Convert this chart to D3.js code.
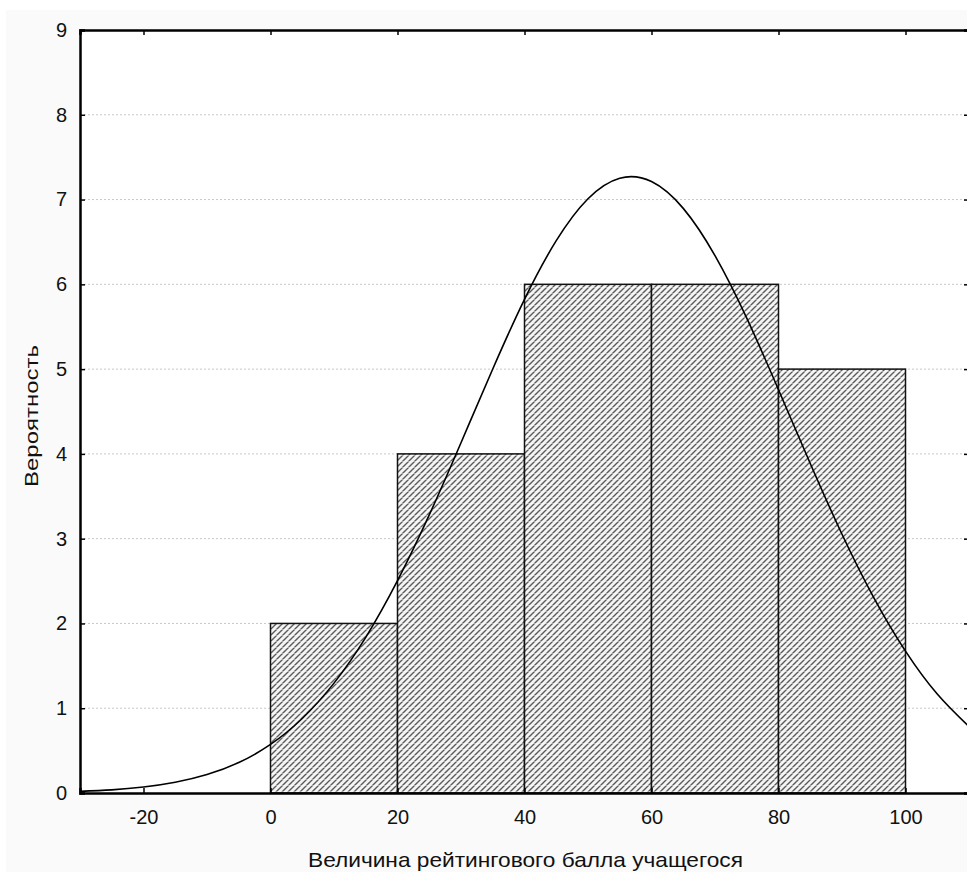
<!DOCTYPE html>
<html><head><meta charset="utf-8">
<script src="https://cdn.jsdelivr.net/npm/d3@7"></script>
<style>
html,body{margin:0;padding:0;background:#fff;}
svg{display:block;font-family:"Liberation Sans",Arial,sans-serif;}
</style></head>
<body>
<svg id="chart" width="967" height="872"></svg>
<script>
// Histogram bins
const binStarts = [0, 20, 40, 60, 80];
const binWidth = 20;
const counts = [2, 4, 6, 6, 5];
// Fitted normal curve
const curveX = [-30,-25,-20,-15,-10,-5,0,5,10,15,20,25,30,35,40,45,50,55,60,65,70,75,80,85,90,95,100,105,110];
const curveY = [0.019,0.037,0.070,0.126,0.217,0.359,0.573,0.879,1.296,1.836,2.504,3.280,4.132,5.002,5.823,6.515,7.010,7.252,7.212,6.896,6.338,5.601,4.757,3.887,3.052,2.305,1.673,1.167,0.783];
const xTicks = [-20, 0, 20, 40, 60, 80, 100];
const yTicks = [0,1,2,3,4,5,6,7,8,9];
const xTitle = "Величина рейтингового балла учащегося";
const yTitle = "Вероятность";

const svg = d3.select("#chart");
const L = 80, T = 30, B = 793;
const x = d3.scaleLinear().domain([-30, 110]).range([L, L + 140 * 6.35]);
const y = d3.scaleLinear().domain([0, 9]).range([B, T]);
const R = x(110);

// background
svg.append("rect").attr("x", 6).attr("y", 10).attr("width", 961).attr("height", 862).attr("fill", "#fafafa");
svg.append("rect").attr("x", L).attr("y", T).attr("width", R - L).attr("height", B - T).attr("fill", "#fff");

// pattern
const defs = svg.append("defs");
const pat = defs.append("pattern").attr("id", "hatch").attr("patternUnits", "userSpaceOnUse")
  .attr("width", 6).attr("height", 6);
pat.append("rect").attr("width", 6).attr("height", 6).attr("fill", "#f4f4f4");
pat.append("path").attr("d", "M-1,7 L7,-1 M-4,4 L4,-4 M2,10 L10,2").attr("stroke", "#5a5a5a").attr("stroke-width", 1.4);
pat.append("path").attr("d", "M0,5.5 H6").attr("stroke", "#ffffff").attr("stroke-width", 0.7).attr("opacity", 0.6);

// grid
svg.append("g").selectAll("line").data(yTicks.filter(d => d > 0 && d < 9)).join("line")
  .attr("x1", L).attr("x2", R).attr("y1", d => y(d)).attr("y2", d => y(d))
  .attr("stroke", "#c8c8c8").attr("stroke-width", 1).attr("stroke-dasharray", "2,2");

// bars
svg.append("g").selectAll("rect").data(counts).join("rect")
  .attr("x", (d, i) => x(binStarts[i]))
  .attr("width", (d, i) => x(binStarts[i] + binWidth) - x(binStarts[i]))
  .attr("y", d => y(d))
  .attr("height", d => y(0) - y(d))
  .attr("fill", "url(#hatch)").attr("stroke", "#111").attr("stroke-width", 1.5);

// curve
const line = d3.line().x((d, i) => x(curveX[i])).y(d => y(d)).curve(d3.curveNatural);
svg.append("path").datum(curveY).attr("d", line).attr("fill", "none").attr("stroke", "#000").attr("stroke-width", 1.6);

// axes
const fmt = d => String(d);
const ax = svg.append("g");
ax.append("g").attr("transform", `translate(0,${B})`)
  .call(d3.axisBottom(x).tickValues(xTicks).tickSize(-5).tickPadding(17).tickFormat(fmt))
  .call(g => { g.select(".domain").attr("stroke-width", 2.5); g.selectAll("text").attr("font-size", 20).attr("fill", "#111"); g.selectAll(".tick line").attr("stroke-width", 1.5); });
ax.append("g").attr("transform", `translate(0,${T})`)
  .call(d3.axisTop(x).tickValues(xTicks).tickSize(-5).tickFormat(""))
  .call(g => { g.select(".domain").attr("stroke-width", 2.5); g.selectAll(".tick line").attr("stroke-width", 1.5); });
ax.append("g").attr("transform", `translate(${L},0)`)
  .call(d3.axisLeft(y).tickValues(yTicks).tickSize(-5).tickPadding(13).tickFormat(fmt))
  .call(g => { g.select(".domain").attr("stroke-width", 2.5); g.selectAll("text").attr("font-size", 20).attr("fill", "#111"); g.selectAll(".tick line").attr("stroke-width", 1.5); });
ax.append("g").attr("transform", `translate(${R},0)`)
  .call(d3.axisRight(y).tickValues(yTicks).tickSize(-5).tickFormat(""))
  .call(g => { g.select(".domain").attr("stroke-width", 2.5); g.selectAll(".tick line").attr("stroke-width", 1.5); });

// titles
svg.append("text").attr("x", 308).attr("y", 867)
  .attr("font-size", 21).attr("fill", "#111")
  .attr("textLength", 435).attr("lengthAdjust", "spacingAndGlyphs").text(xTitle);
svg.append("text").attr("transform", "translate(38,487) rotate(-90)")
  .attr("font-size", 18).attr("fill", "#111")
  .attr("textLength", 142).attr("lengthAdjust", "spacingAndGlyphs").text(yTitle);
</script>
</body></html>
